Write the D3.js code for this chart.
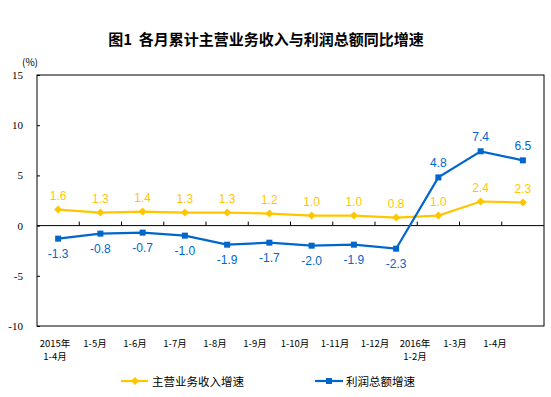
<!DOCTYPE html>
<html><head><meta charset="utf-8">
<script src="https://cdn.jsdelivr.net/npm/d3@7"></script>
<style>body{margin:0;background:#fff}svg{display:block}</style>
</head><body>
<svg id="c" width="551" height="397"></svg>
<script>
const categories = ["2015年\n1-4月","1-5月","1-6月","1-7月","1-8月","1-9月","1-10月","1-11月","1-12月","2016年\n1-2月","1-3月","1-4月"];
const revenue = [1.6,1.3,1.4,1.3,1.3,1.2,1.0,1.0,0.8,1.0,2.4,2.3];
const profit = [-1.3,-0.8,-0.7,-1.0,-1.9,-1.7,-2.0,-1.9,-2.3,4.8,7.4,6.5];
const yTicks = [15,10,5,0,-5,-10];
const seriesNames = ["主营业务收入增速","利润总额增速"];
const title = "图1\u00a0\u00a0各月累计主营业务收入与利润总额同比增速";

const YEL = "#FFC600", BLU = "#0066CC";
const svg = d3.select("#c");
const L = 37, R = 544, T = 75, B = 326;
const x = d3.scaleBand().domain(d3.range(categories.length)).range([L, R]);
const xl = d3.scaleBand().domain(d3.range(categories.length)).range([35, 515]);
const y = d3.scaleLinear().domain([-10, 15]).range([B, T]);

svg.append("text").attr("x", 266).attr("y", 45).attr("text-anchor","middle")
  .attr("font-family","Noto Sans CJK SC").attr("font-weight","bold").attr("font-size",15).text(title);
svg.append("text").attr("x", 22).attr("y", 66).attr("font-family","Noto Sans CJK SC").attr("font-size",10).text("(%)");

// frame
svg.append("rect").attr("x",L).attr("y",T).attr("width",R-L).attr("height",B-T)
  .attr("fill","none").attr("stroke","#000").attr("stroke-width",1);

// y axis
const ya = svg.append("g").attr("transform",`translate(${L},0)`)
  .call(d3.axisRight(y).tickValues(yTicks).tickSize(3).tickFormat(""));
ya.select(".domain").remove();
ya.selectAll("line").attr("stroke","#000");
svg.append("g").selectAll("text").data(yTicks).join("text")
  .attr("x",23).attr("y",d=>y(d)+4).attr("text-anchor","end")
  .attr("font-family","Liberation Serif").attr("font-size",11).text(d=>d);

// zero axis with ticks upward at band edges
svg.append("line").attr("x1",L).attr("x2",R).attr("y1",y(0)).attr("y2",y(0)).attr("stroke","#000");
svg.append("g").selectAll("line").data(d3.range(1,categories.length)).join("line")
  .attr("x1",d=>x(d)).attr("x2",d=>x(d)).attr("y1",y(0)).attr("y2",y(0)-4).attr("stroke","#000");

// x labels (one text per line)
const xLines = [];
categories.forEach((c,i)=>c.split("\n").forEach((l,j)=>xLines.push({i,j,l})));
svg.append("g").selectAll("text").data(xLines).join("text")
  .attr("text-anchor","middle").attr("font-family","Noto Sans CJK SC").attr("font-size",9.5)
  .attr("x",d=>xl(d.i)+xl.bandwidth()/2).attr("y",d=>347+d.j*12.5).text(d=>d.l);

const cx = i => x(i) + x.bandwidth()/2;
const line = d3.line().x((d,i)=>cx(i)).y(d=>y(d));

// revenue
svg.append("path").datum(revenue).attr("d",line).attr("fill","none").attr("stroke",YEL).attr("stroke-width",2.2);
svg.append("g").selectAll("path").data(revenue).join("path")
  .attr("d",d3.symbol(d3.symbolDiamond2,40)).attr("fill",YEL)
  .attr("transform",(d,i)=>`translate(${cx(i)},${y(d)})`);
svg.append("g").selectAll("text").data(revenue).join("text")
  .attr("x",(d,i)=>cx(i)).attr("y",d=>y(d)-10).attr("text-anchor","middle")
  .attr("font-family","Liberation Sans").attr("font-size",12).attr("fill",YEL).text(d=>d.toFixed(1));

// profit
svg.append("path").datum(profit).attr("d",line).attr("fill","none").attr("stroke",BLU).attr("stroke-width",2.2);
svg.append("g").selectAll("rect").data(profit).join("rect")
  .attr("x",(d,i)=>cx(i)-3).attr("y",d=>y(d)-3).attr("width",6).attr("height",6).attr("fill",BLU);
svg.append("g").selectAll("text").data(profit).join("text")
  .attr("x",(d,i)=>cx(i)).attr("y",d=>d<0?y(d)+19:y(d)-10).attr("text-anchor","middle")
  .attr("font-family","Liberation Sans").attr("font-size",12).attr("fill",BLU).text(d=>d.toFixed(1));

// legend
const lg = svg.append("g");
lg.append("line").attr("x1",121).attr("x2",148).attr("y1",381).attr("y2",381).attr("stroke",YEL).attr("stroke-width",2.2);
lg.append("path").attr("d",d3.symbol(d3.symbolDiamond2,40)).attr("fill",YEL).attr("transform","translate(135,381)");
lg.append("text").attr("x",152).attr("y",385.5).attr("font-family","Noto Sans CJK SC").attr("font-size",11.5).text(seriesNames[0]);
lg.append("line").attr("x1",315).attr("x2",343).attr("y1",381).attr("y2",381).attr("stroke",BLU).attr("stroke-width",2.2);
lg.append("rect").attr("x",326).attr("y",378).attr("width",6).attr("height",6).attr("fill",BLU);
lg.append("text").attr("x",346).attr("y",385.5).attr("font-family","Noto Sans CJK SC").attr("font-size",11.5).text(seriesNames[1]);
</script>
</body></html>
